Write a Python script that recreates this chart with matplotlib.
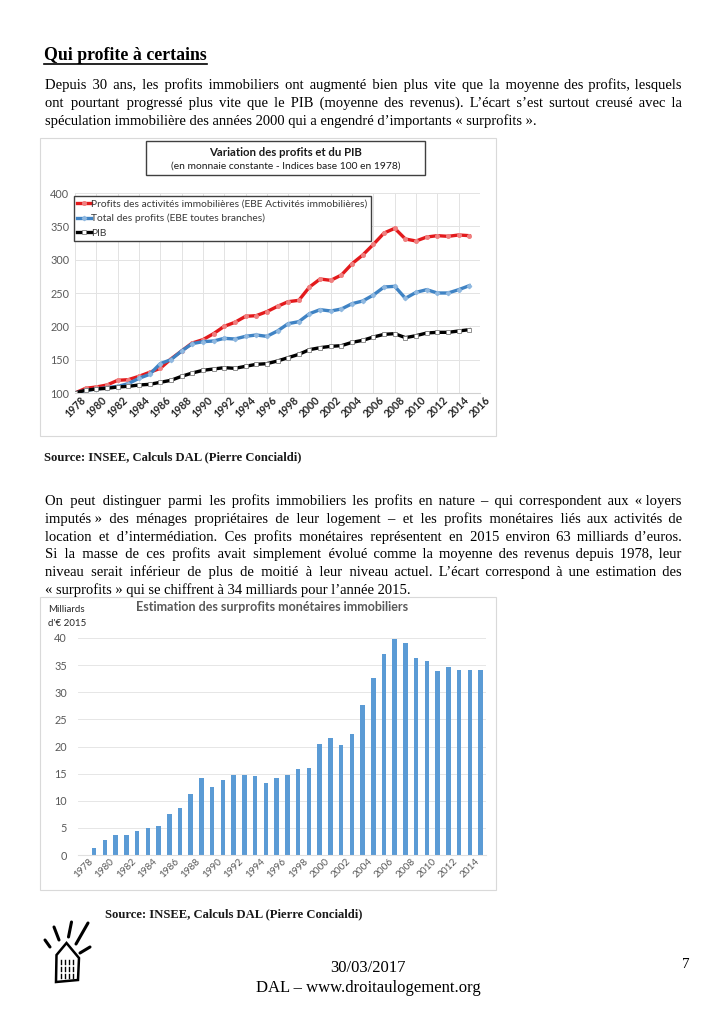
import matplotlib
matplotlib.use('Agg')
import matplotlib.pyplot as plt
from matplotlib.patches import Rectangle, Polygon
import numpy as np

# ---- donnees graphique 1 (indices base 100 en 1978)
annees = list(range(1978, 2016))
immo = [100, 107, 109, 112, 119, 120, 125, 131, 137, 151, 163, 175, 180, 189, 200,
        206, 215, 216, 222, 230, 237, 239, 259, 271, 269, 277, 294, 307, 323, 340,
        347, 331, 328, 334, 336, 335, 337, 336]
total = [100, 104, 106, 108, 110, 114, 122, 128, 144, 150, 163, 174, 177, 178, 182,
         181, 185, 187, 185, 193, 204, 207, 219, 225, 223, 226, 234, 238, 247, 259,
         260, 242, 251, 255, 250, 250, 255, 261]
pib = [100, 104, 106, 107, 109, 110, 112, 113, 116, 119, 125, 130, 134, 136, 138,
       137, 140, 143, 144, 148, 153, 158, 165, 168, 170, 171, 176, 179, 184, 188,
       189, 183, 186, 190, 191, 191, 193, 195]
ticks1 = list(range(1978, 2017, 2))

# ---- donnees graphique 2 (milliards d'euros 2015)
surprofits = [0, 1.2, 2.8, 3.7, 3.6, 4.5, 4.9, 5.3, 7.5, 8.7, 11.3, 14.2, 12.5, 13.9,
              14.7, 14.7, 14.6, 13.2, 14.2, 14.7, 15.9, 16.0, 20.4, 21.6, 20.2, 22.3,
              27.6, 32.7, 37.0, 39.8, 39.1, 36.3, 35.8, 34.0, 34.7, 34.1, 34.1, 34.1]
labels2 = [str(a) for a in annees]

W, H = 724, 1024
fig = plt.figure(figsize=(W / 100, H / 100), dpi=100)
fig.patch.set_facecolor('white')

# calque en pixels pour le texte de la page
page = fig.add_axes([0, 0, 1, 1], zorder=0)
page.set_xlim(0, W)
page.set_ylim(H, 0)
page.axis('off')

serif = ['Liberation Serif', 'DejaVu Serif']
sans = 'Lato'

renderer = fig.canvas.get_renderer()


def largeur(s, **kw):
    t = page.text(0, 0, s, **kw)
    w = t.get_window_extent(renderer).width
    t.remove()
    return w


def ligne(txt, x0, x1, y, justif=True, **kw):
    # une ligne = un seul texte ; justification avec des espaces fines
    t = page.text(x0, y, txt, va='baseline', **kw)
    n = txt.count(' ')
    if not justif or n == 0:
        return
    w0 = t.get_window_extent(renderer).width
    fine, lf = None, 0
    for c in ['\u200a', '\u2009', '\u2006']:
        lf = (largeur('a' + c * 20 + 'a', **kw) - largeur('aa', **kw)) / 20
        if lf > 0.4:
            fine = c
            break
    if fine is None:
        return
    k = int(round((x1 - x0 - w0) / lf))
    if k <= 0:
        return
    q, r = divmod(k, n)
    morceaux = txt.split(' ')
    out = morceaux[0]
    for i, m in enumerate(morceaux[1:]):
        out += ' ' + fine * (q + (1 if i < r else 0)) + m
    t.set_text(out)


NB = '\u00a0'
para1 = ["Depuis 30 ans, les profits immobiliers ont augmenté bien plus vite que la moyenne des profits, lesquels",
         "ont pourtant progressé plus vite que le PIB (moyenne des revenus). L’écart s’est surtout creusé avec la",
         "spéculation immobilière des années 2000 qui a engendré d’importants «" + NB + "surprofits" + NB + "»."]
para2 = ["On peut distinguer parmi les profits immobiliers les profits en nature – qui correspondent aux «" + NB + "loyers",
         "imputés" + NB + "» des ménages propriétaires de leur logement – et les profits monétaires liés aux activités de",
         "location et d’intermédiation. Ces profits monétaires représentent en 2015 environ 63 milliards d’euros.",
         "Si la masse de ces profits avait simplement évolué comme la moyenne des revenus depuis 1978, leur",
         "niveau serait inférieur de plus de moitié à leur niveau actuel. L’écart correspond à une estimation des",
         "«" + NB + "surprofits" + NB + "» qui se chiffrent à 34 milliards pour l’année 2015."]

t = page.text(44, 60, "Qui profite à certains", family=serif, weight='bold', fontsize=12.8, va='baseline')
bb = t.get_window_extent(renderer)
page.plot([44, 44 + bb.width], [63.5, 63.5], color='black', lw=1.2)

for i, l in enumerate(para1):
    ligne(l, 45, 682, 89 + 18 * i, justif=(i < 2), family=serif, fontsize=10.5)
for i, l in enumerate(para2):
    ligne(l, 45, 682, 505 + 17.8 * i, justif=(i < 5), family=serif, fontsize=10.5)

page.text(44, 460, "Source: INSEE, Calculs DAL (Pierre Concialdi)", family=serif, weight='bold',
          fontsize=9.1, va='baseline', color='#1a1a1a')
page.text(105, 917, "Source: INSEE, Calculs DAL (Pierre Concialdi)", family=serif, weight='bold',
          fontsize=9.1, va='baseline', color='#1a1a1a')
page.text(368, 968, "30/03/2017", family=serif, fontsize=12, ha='center', va='center')
page.text(368, 988, "DAL – www.droitaulogement.org", family=serif, fontsize=12, ha='center', va='center')
page.text(686, 965, "7", family=serif, fontsize=11, ha='center', va='center')

# cadres des graphiques
page.add_patch(Rectangle((40, 138), 456, 298, fill=False, ec='#d9d9d9', lw=0.8))
page.add_patch(Rectangle((40, 597), 456, 293, fill=False, ec='#d9d9d9', lw=0.8))
page.add_patch(Rectangle((146, 141), 279, 34, fill=False, ec='#404040', lw=1))
page.text(285.5, 152, "Variation des profits et du PIB", family=sans, weight='bold', fontsize=8.2,
          ha='center', va='center', color='#1a1a1a')
page.text(285.5, 166, "(en monnaie constante - Indices base 100 en 1978)", family=sans, fontsize=7.4,
          ha='center', va='center', color='#1a1a1a')
page.text(272, 607, "Estimation des surprofits monétaires immobiliers", family=sans, weight='bold',
          fontsize=9, ha='center', va='center', color='#595959')
page.text(48, 610, "Milliards", family=sans, fontsize=7, va='center', color='#262626')
page.text(48, 623, "d'€ 2015", family=sans, fontsize=7, va='center', color='#262626')

# logo (croquis)
page.add_patch(Polygon([(56, 982), (56.5, 955), (66.5, 943), (79, 958), (78, 980)],
                       closed=True, fill=False, ec='black', lw=1.8))
for (xa, ya, xb, yb) in [(45, 940, 50, 947), (54, 927, 59, 940), (71.5, 922, 68.5, 937),
                          (88, 923, 76, 944), (80, 953, 90, 947)]:
    page.plot([xa, xb], [ya, yb], color='black', lw=2.2, solid_capstyle='round')
for yy in [962, 969, 976]:
    for xx in [61, 65, 69, 73]:
        page.plot([xx, xx], [yy - 2, yy + 2], color='black', lw=1)

# ---- graphique 1
def fx(x):
    return x / W


def fy(y):
    return 1 - y / H


ax1 = fig.add_axes([fx(75), fy(393), fx(480) - fx(75), fy(193) - fy(393)], zorder=2)
ax1.plot(annees, immo, color='#e31a1c', lw=2.4, marker='o', ms=2.6, mfc='#f08080', mec='#f08080',
         label='Profits des activités immobilières (EBE Activités immobilières)')
ax1.plot(annees, total, color='#3f83c4', lw=2.4, marker='D', ms=2.2, mfc='#8fb8e0', mec='#8fb8e0',
         label='Total des profits (EBE toutes branches)')
ax1.plot(annees, pib, color='black', lw=2.4, marker='s', ms=3, mfc='white', mec='#808080', mew=0.6,
         label='PIB')
ax1.set_xlim(1978, 2016)
ax1.set_ylim(100, 400)
ax1.set_yticks(range(100, 401, 50))
ax1.set_xticks(ticks1)
ax1.set_xticklabels([str(a) for a in ticks1], rotation=45, ha='center', fontsize=7.6,
                    family=sans, weight='bold', color='#262626')
ax1.tick_params(axis='y', labelsize=7.8, labelcolor='#595959', length=0, pad=4)
ax1.tick_params(axis='x', length=0, pad=1)
for l in ax1.get_yticklabels():
    l.set_family(sans)
ax1.grid(True, color='#e3e3e3', lw=0.7)
ax1.set_axisbelow(True)
for s in ['top', 'right', 'left']:
    ax1.spines[s].set_visible(False)
ax1.spines['bottom'].set_color('#d0d0d0')
leg = ax1.legend(loc='upper left', bbox_to_anchor=(-0.003, 0.985), fancybox=False, framealpha=1,
                 edgecolor='#404040', prop={'family': sans, 'size': 7.4},
                 handlelength=1.3, handletextpad=0.05, borderpad=0.35, labelspacing=0.5,
                 borderaxespad=0)
leg.get_frame().set_linewidth(1)
for txt in leg.get_texts():
    txt.set_color('#383838')

# ---- graphique 2
ax2 = fig.add_axes([fx(78), fy(855), fx(486) - fx(78), fy(638) - fy(855)], zorder=2)
xpos = np.arange(len(annees))
ax2.bar(xpos, surprofits, width=0.42, color='#5b9bd5')
ax2.set_xlim(-0.5, len(annees) - 0.5)
ax2.set_ylim(0, 40)
ax2.set_yticks(range(0, 41, 5))
ax2.set_xticks(xpos[::2])
ax2.set_xticklabels(labels2[::2], rotation=45, ha='center', fontsize=7.2, family=sans, color='#595959')
ax2.tick_params(axis='y', labelsize=7.8, labelcolor='#595959', length=0, pad=8)
ax2.tick_params(axis='x', length=0, pad=1)
for l in ax2.get_yticklabels():
    l.set_family(sans)
ax2.grid(True, axis='y', color='#e6e6e6', lw=0.7)
ax2.set_axisbelow(True)
for s in ['top', 'right', 'left']:
    ax2.spines[s].set_visible(False)
ax2.spines['bottom'].set_color('#e0e0e0')

fig.savefig('out.png', dpi=100)
